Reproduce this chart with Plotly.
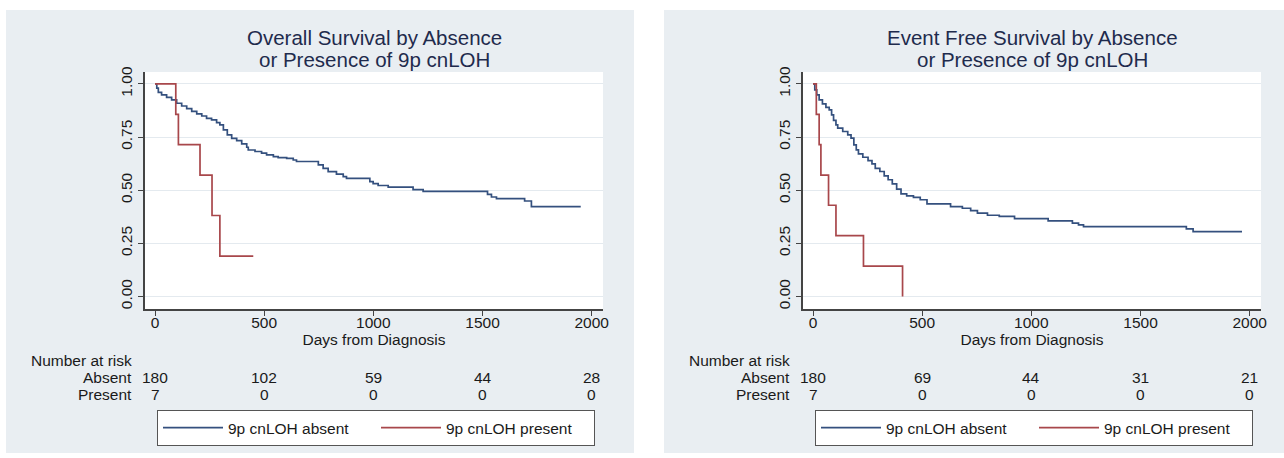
import plotly.graph_objects as go

# ---------------- data ----------------
tick_days = [0, 500, 1000, 1500, 2000]
y_ticks = [0.0, 0.25, 0.5, 0.75, 1.0]

os_absent_t = [0, 8, 15, 30, 53, 76, 99, 122, 145, 168, 191, 214, 236, 259, 282, 297,
               313, 331, 351, 374, 397, 420, 427, 458, 488, 511, 542, 564, 603, 633, 648,
               748, 770, 793, 831, 862, 877, 984, 999, 1022, 1068, 1182, 1228, 1523, 1541,
               1564, 1693, 1724, 1950]
os_absent_s = [1.0, 0.98, 0.96, 0.948, 0.937, 0.925, 0.909, 0.896, 0.884, 0.871, 0.859,
               0.849, 0.838, 0.831, 0.818, 0.807, 0.784, 0.760, 0.744, 0.733, 0.718, 0.702,
               0.689, 0.682, 0.674, 0.666, 0.658, 0.653, 0.650, 0.642, 0.635, 0.619, 0.603,
               0.587, 0.576, 0.564, 0.556, 0.540, 0.531, 0.522, 0.514, 0.503, 0.494, 0.480,
               0.468, 0.460, 0.449, 0.423, 0.423]
os_present_t = [0, 95, 107, 206, 261, 297, 450]
os_present_s = [1.0, 0.857, 0.714, 0.571, 0.381, 0.190, 0.190]

efs_absent_t = [0, 8, 17, 28, 43, 59, 74, 85, 94, 105, 113, 136, 159, 174, 187, 198, 208,
                228, 252, 270, 285, 306, 326, 344, 363, 383, 403, 429, 460, 491, 522, 630,
                684, 722, 753, 799, 853, 923, 1077, 1188, 1216, 1239, 1710, 1741, 1965]
efs_absent_s = [1.0, 0.972, 0.948, 0.925, 0.906, 0.890, 0.878, 0.854, 0.828, 0.807, 0.792,
                0.776, 0.760, 0.745, 0.713, 0.690, 0.671, 0.655, 0.639, 0.624, 0.603, 0.588,
                0.567, 0.549, 0.530, 0.505, 0.483, 0.473, 0.466, 0.455, 0.436, 0.423, 0.415,
                0.404, 0.392, 0.382, 0.377, 0.366, 0.356, 0.345, 0.337, 0.329, 0.318, 0.305,
                0.305]
efs_present_t = [0, 15, 28, 36, 71, 105, 231, 410]
efs_present_s = [1.0, 0.857, 0.714, 0.571, 0.429, 0.286, 0.143, 0.0]

risk_groups = ["Absent", "Present"]
os_risk_absent = [180, 102, 59, 44, 28]
os_risk_present = [7, 0, 0, 0, 0]
efs_risk_absent = [180, 69, 44, 31, 21]
efs_risk_present = [7, 0, 0, 0, 0]

series_names = ["9p cnLOH absent", "9p cnLOH present"]
titles = [["Overall Survival by Absence", "or Presence of 9p cnLOH"],
          ["Event Free Survival by Absence", "or Presence of 9p cnLOH"]]
x_title = "Days from Diagnosis"

# ---------------- style ----------------
W, H = 1284, 458
FONT = "Liberation Sans, Arial, Helvetica, sans-serif"
BLUE = "#34507e"
RED = "#a8474b"
PANEL_BG = "#e9eef2"
GRID = "#e4eaef"
AXIS = "#444444"
TXT = "#1a1a1a"
TITLE_C = "#1f2b4d"


def px_x(p):
    return p / W


def px_y(p):
    return 1 - p / H


panels = [
    dict(off=0, xa="x", ya="y", legend="legend",
         curves=[(os_absent_t, os_absent_s), (os_present_t, os_present_s)],
         risk=[os_risk_absent, os_risk_present]),
    dict(off=658, xa="x2", ya="y2", legend="legend2",
         curves=[(efs_absent_t, efs_absent_s), (efs_present_t, efs_present_s)],
         risk=[efs_risk_absent, efs_risk_present]),
]

fig = go.Figure()
shapes = []
annotations = []
colors = [BLUE, RED]

for i, p in enumerate(panels):
    off = p["off"]
    for (t, s), name, col in zip(p["curves"], series_names, colors):
        fig.add_trace(go.Scatter(
            x=t, y=s, mode="lines", line=dict(shape="hv", color=col, width=1.7),
            name=name, xaxis=p["xa"], yaxis=p["ya"], legend=p["legend"],
            hoverinfo="skip"))
    # panel background
    shapes.append(dict(type="rect", xref="paper", yref="paper",
                       x0=px_x(6 + off), x1=px_x(min(634 + off, W)),
                       y0=px_y(453), y1=px_y(10),
                       fillcolor=PANEL_BG, line=dict(width=0), layer="below"))
    dom = "" if i == 0 else "2"
    shapes.append(dict(type="rect", xref="x%s domain" % dom, yref="y%s domain" % dom,
                       x0=0, x1=1, y0=0, y1=1, fillcolor="white",
                       line=dict(width=0), layer="below"))
    # titles
    for k, line in enumerate(titles[i]):
        annotations.append(dict(text=line, xref="x%s domain" % dom, yref="paper",
                                x=0.5, y=px_y(37 + 23 * k), xanchor="center",
                                yanchor="middle", showarrow=False,
                                font=dict(family=FONT, size=20.5, color=TITLE_C)))
    # number at risk
    annotations.append(dict(text="Number at risk", xref="paper", yref="paper",
                            x=px_x(134 + off), y=px_y(360), xanchor="right",
                            yanchor="middle", showarrow=False,
                            font=dict(family=FONT, size=15.5, color=TXT)))
    for g, (grp, counts) in enumerate(zip(risk_groups, p["risk"])):
        yy = px_y(377 + 17 * g)
        annotations.append(dict(text=grp, xref="paper", yref="paper",
                                x=px_x(134 + off), y=yy, xanchor="right",
                                yanchor="middle", showarrow=False,
                                font=dict(family=FONT, size=15.5, color=TXT)))
        for d, c in zip(tick_days, counts):
            annotations.append(dict(text=str(c), xref=p["xa"], yref="paper",
                                    x=d, y=yy, xanchor="center", yanchor="middle",
                                    showarrow=False,
                                    font=dict(family=FONT, size=15.5, color=TXT)))

axis_common = dict(showline=True, linecolor=AXIS, linewidth=1.5, ticks="outside",
                   ticklen=5, tickwidth=1.3, tickcolor=AXIS, zeroline=False,
                   tickfont=dict(family=FONT, size=15.5, color=TXT))
xcommon = dict(axis_common, range=[-46, 2052], tickvals=tick_days,
               showgrid=False, ticklabelstandoff=-6,
               title=dict(text=x_title, standoff=3,
                          font=dict(family=FONT, size=15.5, color=TXT)))
ycommon = dict(axis_common, range=[-0.059, 1.056], tickvals=y_ticks,
               tickformat=".2f", tickangle=-90, showgrid=True, gridcolor=GRID,
               gridwidth=1.2)

legend_common = dict(orientation="h", xanchor="left", yanchor="top",
                     bgcolor="white", bordercolor="#555555", borderwidth=1,
                     font=dict(family=FONT, size=15.5, color=TXT), itemwidth=60,
                     entrywidth=143, entrywidthmode="pixels", tracegroupgap=0,
                     itemclick=False, itemdoubleclick=False)

fig.update_layout(
    width=W, height=H, margin=dict(l=0, r=0, t=0, b=0, autoexpand=False),
    paper_bgcolor="white", plot_bgcolor="white",
    font=dict(family=FONT, color=TXT),
    xaxis=dict(xcommon, domain=[px_x(145), px_x(603)], anchor="y"),
    yaxis=dict(ycommon, domain=[px_y(309), px_y(72)], anchor="x"),
    xaxis2=dict(xcommon, domain=[px_x(803), px_x(1261)], anchor="y2"),
    yaxis2=dict(ycommon, domain=[px_y(309), px_y(72)], anchor="x2"),
    legend=dict(legend_common, x=px_x(157), y=px_y(410)),
    legend2=dict(legend_common, x=px_x(815), y=px_y(410)),
    shapes=shapes, annotations=annotations, showlegend=True,
)

fig.write_html("out.html", config={"displayModeBar": False},
               post_script="document.body.style.margin='0';"
                           "document.body.style.overflow='hidden';")
